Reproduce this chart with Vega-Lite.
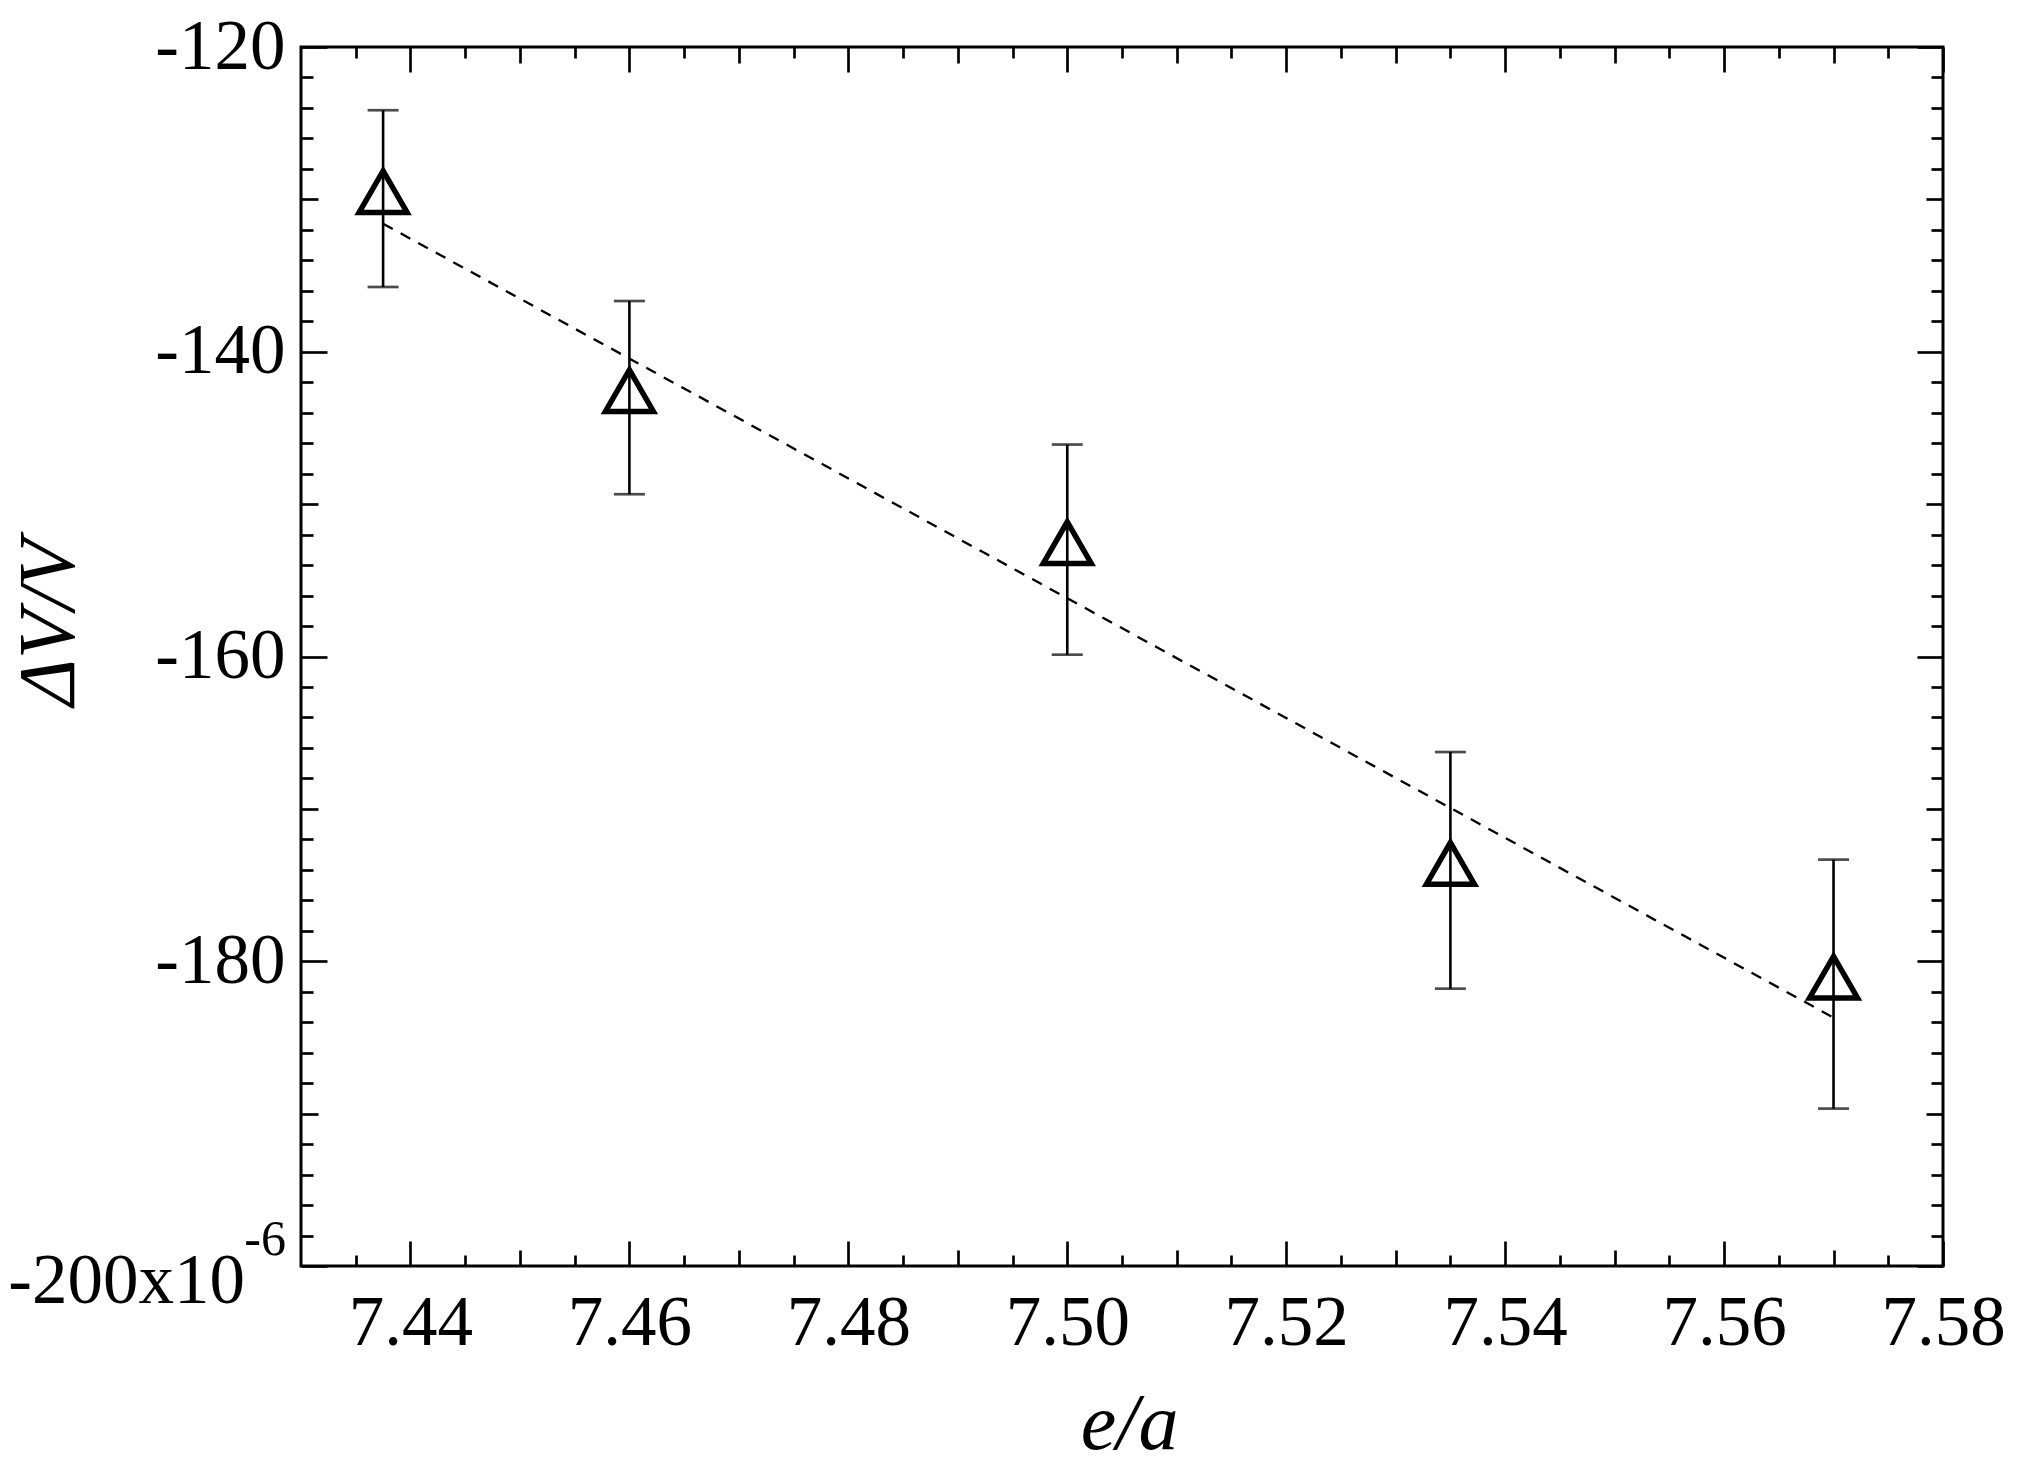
{
  "$schema": "https://vega.github.io/schema/vega-lite/v6.json",
  "width": 1642,
  "height": 1219,
  "autosize": {"type": "none"},
  "padding": {"left": 301, "top": 47, "right": 76, "bottom": 198},
  "background": "white",
  "config": {
    "view": {"stroke": "black", "strokeWidth": 3},
    "font": "Liberation Serif"
  },
  "datasets": {
    "points": [
      {"ea": 7.4375, "dv": -129.95, "lo": -135.75, "hi": -124.15},
      {"ea": 7.46, "dv": -143.01, "lo": -149.35, "hi": -136.67},
      {"ea": 7.5, "dv": -152.98, "lo": -159.88, "hi": -146.09},
      {"ea": 7.535, "dv": -174.03, "lo": -181.8, "hi": -166.27},
      {"ea": 7.57, "dv": -181.5, "lo": -189.67, "hi": -173.33}
    ],
    "fit": [
      {"ea": 7.4375, "fit": -131.6},
      {"ea": 7.57, "fit": -183.7}
    ]
  },
  "layer": [
    {
      "data": {"name": "fit"},
      "mark": {"type": "line", "color": "black", "strokeWidth": 2.3, "strokeDash": [11, 9]},
      "encoding": {
        "x": {
          "field": "ea", "type": "quantitative",
          "scale": {"domain": [7.43, 7.58], "nice": false, "zero": false},
          "axis": {
            "orient": "bottom",
            "values": [7.435,7.44,7.445,7.45,7.455,7.46,7.465,7.47,7.475,7.48,7.485,7.49,7.495,7.5,7.505,7.51,7.515,7.52,7.525,7.53,7.535,7.54,7.545,7.55,7.555,7.56,7.565,7.57,7.575,7.58],
            "labelExpr": "abs(datum.value*50 - round(datum.value*50)) < 0.01 ? format(datum.value, '.2f') : ''",
            "tickSize": {"condition": [{"test": "abs(datum.value*50 - round(datum.value*50)) < 0.01", "value": -25}, {"test": "abs(datum.value*100 - round(datum.value*100)) < 0.01", "value": -16}], "value": -11},
            "tickWidth": 2.7, "tickColor": "black",
            "domain": false, "grid": false,
            "labelFont": "Liberation Serif", "labelFontSize": 71, "labelColor": "black",
            "labelPadding": 47, "labelFlush": false, "labelOverlap": false, "labelBound": false,
            "title": "e/a", "titleFont": "Liberation Serif", "titleFontSize": 80, "titleFontStyle": "italic", "titleFontWeight": "normal", "titleColor": "black",
            "titleX": 828, "titleY": 182, "titleAlign": "center", "titleBaseline": "alphabetic"
          }
        },
        "y": {
          "field": "fit", "type": "quantitative",
          "scale": {"domain": [-200, -120], "nice": false, "zero": false},
          "axis": {
            "orient": "left",
            "values": [-200,-198,-196,-194,-192,-190,-188,-186,-184,-182,-180,-178,-176,-174,-172,-170,-168,-166,-164,-162,-160,-158,-156,-154,-152,-150,-148,-146,-144,-142,-140,-138,-136,-134,-132,-130,-128,-126,-124,-122,-120],
            "labelExpr": "datum.value % 20 == 0 && datum.value > -200 ? '-' + format(abs(datum.value), 'd') : ''",
            "tickSize": {"condition": [{"test": "datum.value % 20 == 0", "value": -26}, {"test": "datum.value % 10 == 0", "value": -17}], "value": -12},
            "tickWidth": 2.7, "tickColor": "black",
            "domain": false, "grid": false,
            "labelFont": "Liberation Serif", "labelFontSize": 71, "labelColor": "black",
            "labelPadding": 42, "labelFlush": false, "labelOverlap": false, "labelBound": false, "labelBaseline": "middle",
            "title": "ΔV/V", "titleFont": "Liberation Serif", "titleFontSize": 80, "titleFontStyle": "italic", "titleFontWeight": "normal", "titleColor": "black",
            "titleX": -228, "titleY": 575, "titleAngle": 270, "titleAlign": "center", "titleBaseline": "alphabetic"
          }
        }
      }
    },
    {
      "data": {"name": "points"},
      "mark": {"type": "rule", "color": "black", "strokeWidth": 2.6},
      "encoding": {
        "x": {
          "field": "ea", "type": "quantitative",
          "axis": {
            "orient": "top",
            "values": [7.435,7.44,7.445,7.45,7.455,7.46,7.465,7.47,7.475,7.48,7.485,7.49,7.495,7.5,7.505,7.51,7.515,7.52,7.525,7.53,7.535,7.54,7.545,7.55,7.555,7.56,7.565,7.57,7.575,7.58],
            "labels": false,
            "tickSize": {"condition": [{"test": "abs(datum.value*50 - round(datum.value*50)) < 0.01", "value": -25}, {"test": "abs(datum.value*100 - round(datum.value*100)) < 0.01", "value": -16}], "value": -11},
            "tickWidth": 2.7, "tickColor": "black",
            "domain": false, "grid": false, "title": null
          }
        },
        "y": {
          "field": "lo", "type": "quantitative",
          "axis": {
            "orient": "right",
            "values": [-200,-198,-196,-194,-192,-190,-188,-186,-184,-182,-180,-178,-176,-174,-172,-170,-168,-166,-164,-162,-160,-158,-156,-154,-152,-150,-148,-146,-144,-142,-140,-138,-136,-134,-132,-130,-128,-126,-124,-122,-120],
            "labels": false,
            "tickSize": {"condition": [{"test": "datum.value % 20 == 0", "value": -26}, {"test": "datum.value % 10 == 0", "value": -17}], "value": -12},
            "tickWidth": 2.7, "tickColor": "black",
            "domain": false, "grid": false, "title": null
          }
        },
        "y2": {"field": "hi"}
      }
    },
    {
      "data": {"name": "points"},
      "mark": {"type": "tick", "orient": "horizontal", "color": "black", "size": 31, "thickness": 2.7},
      "encoding": {
        "x": {"field": "ea", "type": "quantitative", "axis": null},
        "y": {"field": "lo", "type": "quantitative", "axis": null}
      }
    },
    {
      "data": {"name": "points"},
      "mark": {"type": "tick", "orient": "horizontal", "color": "black", "size": 31, "thickness": 2.7},
      "encoding": {
        "x": {"field": "ea", "type": "quantitative", "axis": null},
        "y": {"field": "hi", "type": "quantitative", "axis": null}
      }
    },
    {
      "data": {"name": "points"},
      "mark": {"type": "point", "shape": "M0,-1.1547L1,0.57735L-1,0.57735Z", "size": 2304, "filled": false, "stroke": "black", "strokeWidth": 5.5, "opacity": 1, "strokeOpacity": 1},
      "encoding": {
        "x": {"field": "ea", "type": "quantitative", "axis": null},
        "y": {"field": "dv", "type": "quantitative", "axis": null}
      }
    },
    {
      "data": {"values": [{}]},
      "mark": {"type": "text", "text": "-200x10", "font": "Liberation Serif", "fontSize": 71, "color": "black", "align": "right", "baseline": "alphabetic", "dx": -56, "dy": 37},
      "encoding": {
        "x": {"datum": 7.43, "type": "quantitative", "axis": null},
        "y": {"datum": -200, "type": "quantitative", "axis": null}
      }
    },
    {
      "data": {"values": [{}]},
      "mark": {"type": "text", "text": "-6", "font": "Liberation Serif", "fontSize": 50, "color": "black", "align": "right", "baseline": "alphabetic", "dx": -15, "dy": -11},
      "encoding": {
        "x": {"datum": 7.43, "type": "quantitative", "axis": null},
        "y": {"datum": -200, "type": "quantitative", "axis": null}
      }
    }
  ],
  "resolve": {"axis": {"x": "independent", "y": "independent"}}
}
